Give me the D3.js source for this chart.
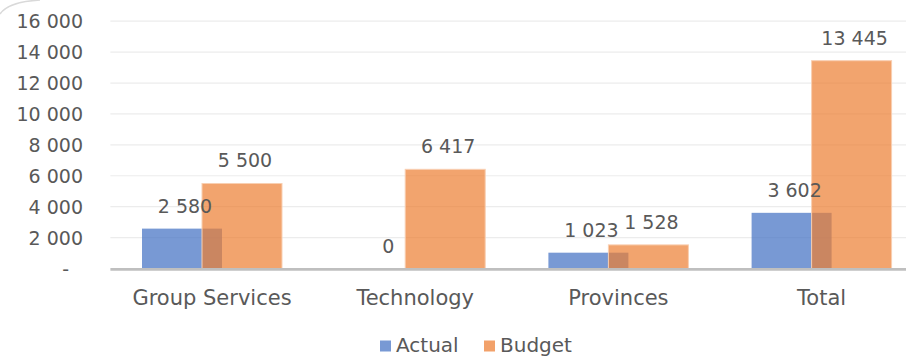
<!DOCTYPE html>
<html>
<head>
<meta charset="utf-8">
<script src="https://cdn.jsdelivr.net/npm/d3@7"></script>
<style>
  html, body { margin: 0; padding: 0; background: #ffffff; }
  svg { display: block; }
  text { font-family: "DejaVu Sans", sans-serif; fill: #595959; }
</style>
</head>
<body>
<svg id="chart" width="906" height="357"></svg>
<script>
// Actual vs budget by business unit
const categories = ["Group Services", "Technology", "Provinces", "Total"];
const actualValues = [2580, 0, 1023, 3602];
const budgetValues = [5500, 6417, 1528, 13445];
const yTicks = [0, 2000, 4000, 6000, 8000, 10000, 12000, 14000, 16000];
const seriesNames = ["Actual", "Budget"];

const W = 906, H = 357;
const plot = { left: 110.4, right: 923.2, top: 21.2, bottom: 268.5 };

const svg = d3.select("#chart");

// decorative corner of the chart frame
svg.append("path")
  .attr("d", "M0,14 Q8,2 40,0")
  .attr("fill", "none")
  .attr("stroke", "#d9d9d9")
  .attr("stroke-width", 1.5);

const x = d3.scaleBand().domain(categories).range([plot.left, plot.right]).padding(0);
const y = d3.scaleLinear().domain([0, 16000]).range([plot.bottom, plot.top]);

const barW = x.bandwidth() * 0.3937;
const shift = barW * 0.75;           // bars overlap by a quarter of their width
const groupW = barW + shift;

// thousands separated by a space
const fmt = v => d3.format(",")(v).replace(/,/g, " ");

// gridlines
svg.append("g").selectAll("line")
  .data(yTicks.filter(t => t > 0))
  .join("line")
  .attr("x1", plot.left).attr("x2", W)
  .attr("y1", d => y(d)).attr("y2", d => y(d))
  .attr("stroke", "#ececec").attr("stroke-width", 1.2);

// y axis labels
const yAxis = d3.axisLeft(y).tickValues(yTicks).tickSize(0).tickPadding(0)
  .tickFormat(d => d === 0 ? "-" : fmt(d));
const gy = svg.append("g").attr("transform", `translate(83,0)`).call(yAxis);
gy.select(".domain").remove();
gy.selectAll("text")
  .attr("font-size", 19)
  .attr("font-family", null)
  .attr("fill", "#595959")
  .attr("dx", d => d === 0 ? -14 : 0)
  .attr("dy", "0.35em");

const groupLeft = c => x(c) + (x.bandwidth() - groupW) / 2;

// Actual bars
svg.append("g").selectAll("rect")
  .data(categories.map((c, i) => ({ c, v: actualValues[i] })))
  .join("rect")
  .attr("x", d => groupLeft(d.c))
  .attr("y", d => y(d.v))
  .attr("width", barW)
  .attr("height", d => y(0) - y(d.v))
  .attr("fill", "#4472c4").attr("fill-opacity", 0.72);

// Budget bars, drawn on top
svg.append("g").selectAll("rect")
  .data(categories.map((c, i) => ({ c, v: budgetValues[i] })))
  .join("rect")
  .attr("x", d => groupLeft(d.c) + shift)
  .attr("y", d => y(d.v))
  .attr("width", barW)
  .attr("height", d => y(0) - y(d.v))
  .attr("fill", "#ed7d31").attr("fill-opacity", 0.7)
  .attr("stroke", "#f8cfb2").attr("stroke-width", 1);

// x axis baseline
svg.append("line")
  .attr("x1", plot.left).attr("x2", W)
  .attr("y1", y(0) + 0.9).attr("y2", y(0) + 0.9)
  .attr("stroke", "#bfbfbf").attr("stroke-width", 2.6);

// value labels
const labels = [];
categories.forEach((c, i) => {
  labels.push({ x: groupLeft(c) + barW / 2, v: actualValues[i] });
  labels.push({ x: groupLeft(c) + shift + barW / 2, v: budgetValues[i] });
});
svg.append("g").selectAll("text")
  .data(labels)
  .join("text")
  .attr("x", d => d.x + 3)
  .attr("y", d => y(d.v) - 16)
  .attr("text-anchor", "middle")
  .attr("font-size", 19)
  .text(d => fmt(d.v));

// category labels
svg.append("g").selectAll("text")
  .data(categories)
  .join("text")
  .attr("x", c => x(c) + x.bandwidth() / 2)
  .attr("y", 305)
  .attr("text-anchor", "middle")
  .attr("font-size", 21)
  .text(c => c);

// legend
const legendColors = ["#4472c4", "#ed7d31"];
const legendX = [380, 484];
const lg = svg.append("g");
seriesNames.forEach((name, i) => {
  lg.append("rect")
    .attr("x", legendX[i]).attr("y", 340.5)
    .attr("width", 11).attr("height", 11)
    .attr("fill", legendColors[i]).attr("fill-opacity", 0.72);
  lg.append("text")
    .attr("x", legendX[i] + 16).attr("y", 351.5)
    .attr("font-size", 20)
    .text(name);
});
</script>
</body>
</html>
